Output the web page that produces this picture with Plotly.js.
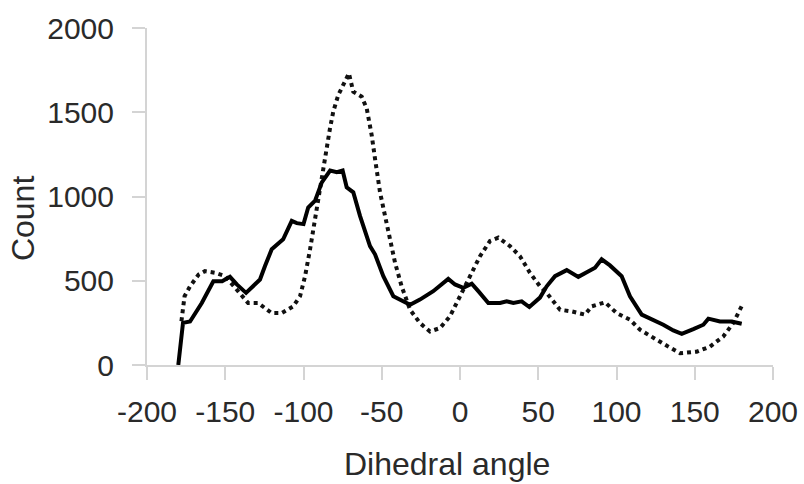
<!DOCTYPE html>
<html>
<head>
<meta charset="utf-8">
<script src="https://cdn.plot.ly/plotly-3.0.1.min.js"></script>
<style>
  html, body { margin: 0; padding: 0; background: #ffffff; }
  #chart { width: 804px; height: 484px; }
</style>
</head>
<body>
<div id="chart"></div>
<script>
// Solid series (dihedral angle, count)
const solidAngle = [-180, -177, -172.5, -165, -157.6, -152, -147, -142.6, -136.7, -132, -127.8, -124.6, -120.3, -113, -107.5, -104.3, -100, -97, -92.6, -88.3, -83, -78.7, -75, -72.4, -68.2, -63.9, -57.5, -54.3, -49, -42.6, -36.2, -31.9, -25.6, -17.1, -7.5, -3.2, 2.1, 7.5, 11.7, 18.1, 25.6, 29.8, 34.1, 39.4, 44.3, 51.1, 55.4, 60.7, 68.2, 75.6, 81, 86.3, 90.5, 95.8, 103.3, 108.6, 116.1, 123.5, 129.9, 136.3, 141.7, 149.1, 155.5, 158.7, 166.1, 173.6, 180];
const solidCount = [0, 250, 258, 368, 497, 497, 523, 478, 428, 467, 507, 587, 687, 746, 855, 842, 836, 935, 975, 1084, 1154, 1144, 1154, 1055, 1025, 885, 706, 657, 527, 408, 378, 358, 388, 438, 511, 478, 458, 482, 438, 368, 368, 378, 368, 378, 344, 400, 467, 527, 563, 523, 551, 577, 627, 591, 527, 408, 299, 269, 239, 205, 185, 213, 239, 275, 258, 258, 245];

// Dotted series (dihedral angle, count)
const dotAngle = [-178, -176, -172.5, -167, -163, -156.5, -150, -141, -135.4, -129, -120.3, -114, -106.6, -102.2, -99, -95.8, -92.6, -89.5, -86.3, -83.1, -81, -77.8, -74.6, -71, -68.2, -62.8, -59.6, -56.4, -54.3, -51.1, -47.9, -44.7, -41.5, -37.3, -31.9, -25.6, -19.2, -12.8, -6.4, 0, 6.4, 12.8, 19.2, 24.5, 31.9, 38.3, 44.7, 51.1, 55.4, 63.9, 71.4, 79.9, 84.1, 92.7, 100.1, 108.6, 115, 123.5, 133.1, 140.6, 151.2, 159.7, 168.2, 174.6, 181];
const dotCount = [260, 408, 467, 537, 557, 547, 527, 430, 368, 368, 308, 308, 348, 408, 527, 687, 866, 1064, 1224, 1403, 1503, 1602, 1662, 1731, 1622, 1592, 1522, 1363, 1224, 1025, 885, 746, 607, 467, 328, 249, 199, 219, 289, 408, 527, 646, 736, 756, 706, 646, 547, 467, 428, 328, 318, 299, 348, 372, 308, 269, 209, 159, 109, 70, 79, 109, 169, 249, 368];

const xTicks = [-200, -150, -100, -50, 0, 50, 100, 150, 200];
const yTicks = [0, 500, 1000, 1500, 2000];

const axisGray = '#d4d4d4';
const fontFam = '"Liberation Sans", Arial, sans-serif';
const textColor = '#2a2a2a';

const traces = [
  {
    x: dotAngle, y: dotCount, type: 'scatter', mode: 'lines',
    line: { color: '#111111', width: 4, dash: '4px,4px' },
    hoverinfo: 'skip'
  },
  {
    x: solidAngle, y: solidCount, type: 'scatter', mode: 'lines',
    line: { color: '#000000', width: 4 },
    hoverinfo: 'skip'
  }
];

const layout = {
  width: 804, height: 484,
  margin: { l: 147, r: 31, t: 28, b: 119 },
  paper_bgcolor: '#ffffff', plot_bgcolor: '#ffffff',
  showlegend: false,
  font: { family: fontFam, size: 30, color: textColor },
  xaxis: {
    range: [-200, 200], tickvals: xTicks, ticktext: xTicks.map(String),
    showgrid: false, zeroline: false,
    showline: true, linecolor: axisGray, linewidth: 2,
    ticks: 'outside', ticklen: 13, tickwidth: 2, tickcolor: axisGray,
    tickfont: { family: fontFam, size: 30, color: textColor },
    ticklabelstandoff: 6
  },
  yaxis: {
    range: [0, 2000], tickvals: yTicks, ticktext: yTicks.map(String),
    showgrid: false, zeroline: false,
    showline: true, linecolor: axisGray, linewidth: 2,
    ticks: 'outside', ticklen: 13, tickwidth: 2, tickcolor: axisGray,
    tickfont: { family: fontFam, size: 30, color: textColor },
    ticklabelstandoff: 12
  },
  annotations: [
    {
      text: 'Dihedral angle', xref: 'paper', yref: 'paper',
      x: 0.479, y: -0.294, xanchor: 'center', yanchor: 'middle',
      showarrow: false, font: { family: fontFam, size: 32, color: textColor }
    },
    {
      text: 'Count', xref: 'paper', yref: 'paper',
      x: -0.198, y: 0.436, xanchor: 'center', yanchor: 'middle', textangle: -90,
      showarrow: false, font: { family: fontFam, size: 32, color: textColor }
    }
  ]
};

Plotly.newPlot('chart', traces, layout, { staticPlot: true, displayModeBar: false });
</script>
</body>
</html>
